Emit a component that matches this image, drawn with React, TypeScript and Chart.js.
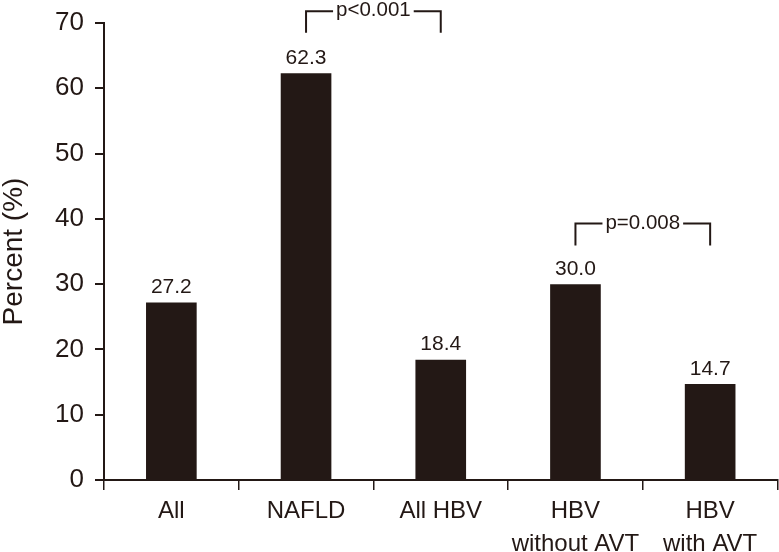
import React, { useEffect, useRef } from "react";
import { Chart, registerables } from "chart.js";

Chart.register(...registerables);

const categories: (string | string[])[] = ["All", "NAFLD", "All HBV", ["HBV", "without AVT"], ["HBV", "with AVT"]];
const percentValues: number[] = [27.2, 62.3, 18.4, 30.0, 14.7];
const valueLabels: string[] = ["27.2", "62.3", "18.4", "30.0", "14.7"];
const yTicks: number[] = [0, 10, 20, 30, 40, 50, 60, 70];

// significance brackets: category indexes, label, top & bottom (data units)
const bracketFrom: number[] = [1, 3];
const bracketTo: number[] = [2, 4];
const bracketLabels: string[] = ["p<0.001", "p=0.008"];
const bracketTop: number[] = [71.8, 39.3];
const bracketBottom: number[] = [68.5, 35.9];

const INK = "#231815";
const FONT = "'Liberation Sans', Arial, Helvetica, sans-serif";

const annotationPlugin = {
  id: "annotations",
  afterDraw(chart: any) {
    const ctx = chart.ctx;
    const xs = chart.scales.x;
    const ys = chart.scales.y;
    const meta = chart.getDatasetMeta(0);
    ctx.save();
    ctx.fillStyle = INK;
    ctx.strokeStyle = INK;
    // value labels
    ctx.font = `21px ${FONT}`;
    ctx.textAlign = "center";
    ctx.textBaseline = "alphabetic";
    meta.data.forEach((bar: any, i: number) => {
      ctx.fillText(valueLabels[i], bar.x, bar.y - 9.5);
    });
    // brackets
    ctx.font = `20.5px ${FONT}`;
    ctx.lineWidth = 2;
    ctx.lineCap = "butt";
    for (let i = 0; i < bracketLabels.length; i++) {
      const x1 = xs.getPixelForValue(bracketFrom[i]);
      const x2 = xs.getPixelForValue(bracketTo[i]);
      const yt = ys.getPixelForValue(bracketTop[i]);
      const yb = ys.getPixelForValue(bracketBottom[i]);
      const mid = (x1 + x2) / 2;
      const tw = ctx.measureText(bracketLabels[i]).width;
      const gap = 3;
      ctx.beginPath();
      ctx.moveTo(x1, yb);
      ctx.lineTo(x1, yt);
      ctx.lineTo(mid - tw / 2 - gap, yt);
      ctx.moveTo(mid + tw / 2 + gap, yt);
      ctx.lineTo(x2, yt);
      ctx.lineTo(x2, yb);
      ctx.stroke();
      ctx.textAlign = "center";
      ctx.textBaseline = "middle";
      ctx.fillText(bracketLabels[i], mid, yt - 0.5);
    }
    ctx.restore();
  },
};

export default function App() {
  const canvasRef = useRef<HTMLCanvasElement>(null);

  useEffect(() => {
    if (!canvasRef.current) return;
    const chart = new Chart(canvasRef.current, {
      type: "bar",
      data: {
        labels: categories as any,
        datasets: [
          {
            data: percentValues,
            backgroundColor: INK,
            borderWidth: 0,
            barPercentage: 0.376,
            categoryPercentage: 1,
          },
        ],
      },
      options: {
        responsive: false,
        animation: false,
        layout: { padding: { top: 23, right: 1.5, left: 0, bottom: 0 } },
        plugins: {
          legend: { display: false },
          tooltip: { enabled: false },
          title: { display: false },
        },
        scales: {
          x: {
            offset: true,
            grid: {
              offset: true,
              drawOnChartArea: false,
              drawTicks: true,
              tickLength: 10,
              color: INK,
              lineWidth: 1.5,
            },
            border: { display: true, color: INK, width: 2 },
            ticks: {
              color: INK,
              font: { family: FONT, size: 24, lineHeight: 1.36 },
              padding: 5,
              maxRotation: 0,
              autoSkip: false,
            },
            afterFit(scale: any) {
              scale.height = 72;
            },
          },
          y: {
            min: 0,
            max: 70,
            afterBuildTicks(scale: any) {
              scale.ticks = yTicks.map((v) => ({ value: v }));
            },
            grid: {
              drawOnChartArea: false,
              drawTicks: true,
              tickLength: 9,
              color: INK,
              lineWidth: 2,
            },
            border: { display: true, color: INK, width: 2 },
            ticks: {
              color: INK,
              font: { family: FONT, size: 26, lineHeight: 0.85 },
              padding: 11,
            },
            title: {
              display: true,
              text: "Percent (%)",
              color: INK,
              font: { family: FONT, size: 28, lineHeight: 1 },
              padding: { top: 0, bottom: 0 },
            },
            afterFit(scale: any) {
              scale.width = 104;
            },
          },
        },
      },
      plugins: [annotationPlugin],
    });
    return () => chart.destroy();
  }, []);

  return (
    <div style={{ position: "absolute", left: 0, top: 0, width: 779, height: 552, background: "#fff" }}>
      <canvas ref={canvasRef} width={779} height={552} style={{ display: "block" }} />
    </div>
  );
}
